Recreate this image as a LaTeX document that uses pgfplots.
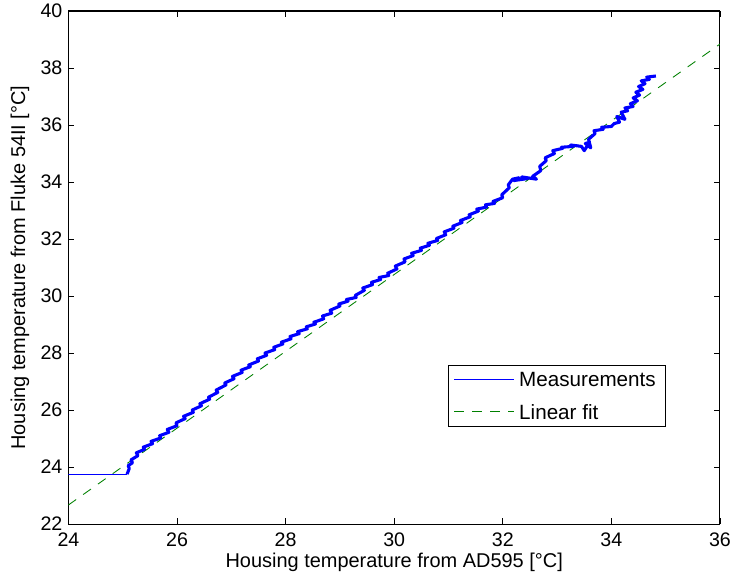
\documentclass[border=0pt]{standalone}
\usepackage{fontspec}
\setmainfont{Liberation Sans}
\usepackage{pgfplots}
\pgfplotsset{compat=1.18}
\definecolor{mblue}{rgb}{0,0,1}
\definecolor{mgreen}{rgb}{0,0.5,0}
\begin{document}
\begin{tikzpicture}
\begin{axis}[
 scale only axis,
 width=378.8pt, height=298.3pt,
 xmin=24, xmax=36, ymin=22, ymax=40,
 xtick={24,26,...,36}, ytick={22,24,...,40},
 tick align=inside, major tick length=3.3pt,
 tick style={black, line width=0.5pt},
 axis line style={line width=0.6pt},
 /pgf/number format/assume math mode=true,
 ticklabel style={font=\fontsize{11.4}{13}\selectfont},
 xticklabel style={yshift=-1.5pt},
 xlabel={Housing temperature from AD595 [°C]},
 ylabel={Housing temperature from Fluke 54II [°C]},
 label style={font=\fontsize{11.6}{13}\selectfont},
 xlabel style={at={(axis description cs:0.5,-0.0738)}, anchor=center},
 ylabel style={at={(axis description cs:-0.0744,0.5)}, anchor=center},
 legend style={at={(rel axis cs:0.583,0.311)}, anchor=north west, draw=black, line width=0.5pt,
   font=\fontsize{12}{14}\selectfont, row sep=4pt, inner xsep=3pt, inner ysep=1.5pt,
   nodes={inner xsep=2.5pt, inner ysep=3pt, text depth=0pt}},
 legend cell align=left,
 legend image code/.code={\draw[#1] (0pt,0pt) -- (35pt,0pt);},
]
\addlegendimage{mblue, line width=0.5pt}
\addlegendentry{Measurements}
\addlegendimage{mgreen, line width=0.5pt, dash pattern=on 5.5pt off 5pt}
\addlegendentry{Linear fit}

\addplot[mgreen, line width=0.5pt, dash pattern=on 5.5pt off 5pt, forget plot] coordinates {(24,22.67) (36,38.84)};

\addplot[mblue, line width=0.7pt, forget plot] coordinates {(24.00,23.75) (25.08,23.75)};

\addplot[mblue, line width=1.8pt, line join=round, forget plot] coordinates {
(25.08,23.75) (25.12,23.95) (25.10,24.05) (25.18,24.15) (25.15,24.25)
(25.28,24.40) (25.25,24.50) (25.40,24.62) (25.38,24.70) (25.55,24.82) (25.52,24.90)
(25.70,25.02) (25.68,25.10) (25.85,25.22) (25.82,25.32) (26.00,25.45) (25.98,25.55)
(26.15,25.70) (26.12,25.78) (26.30,25.92) (26.28,26.00) (26.45,26.15) (26.42,26.22)
(26.60,26.38) (26.58,26.45) (26.75,26.62) (26.72,26.70) (26.90,26.88) (26.88,26.95)
(27.05,27.10) (27.02,27.18) (27.20,27.32) (27.18,27.40) (27.35,27.52) (27.32,27.58)
(27.50,27.72) (27.48,27.80) (27.65,27.92) (27.62,28.00) (27.80,28.12) (27.78,28.20)
(27.95,28.32) (27.92,28.38) (28.10,28.50) (28.08,28.58) (28.25,28.68) (28.22,28.75)
(28.40,28.85) (28.38,28.92) (28.55,29.02) (28.52,29.08) (28.70,29.20) (28.68,29.30)
(28.85,29.40) (28.82,29.50) (29.00,29.65) (28.98,29.72) (29.15,29.82) (29.12,29.88)
(29.30,29.95) (29.28,30.02) (29.45,30.20) (29.42,30.28) (29.60,30.40) (29.58,30.48)
(29.75,30.58) (29.72,30.65) (29.90,30.72) (29.88,30.80) (30.05,30.95) (30.02,31.05)
(30.20,31.20) (30.18,31.30) (30.35,31.42) (30.32,31.50) (30.50,31.60) (30.48,31.68)
(30.65,31.78) (30.62,31.85) (30.80,31.95) (30.78,32.02) (30.95,32.15) (30.92,32.25)
(31.10,32.38) (31.08,32.45) (31.25,32.58) (31.22,32.65) (31.40,32.78) (31.38,32.85)
(31.55,32.98) (31.52,33.05) (31.70,33.12) (31.68,33.20) (31.85,33.25) (31.82,33.32)
(32.00,33.45) (31.98,33.55) (32.12,33.80) (32.10,33.90) (32.18,34.10) (32.30,34.15)
(32.20,34.05) (32.45,34.12) (32.35,34.18) (32.62,34.10) (32.55,34.20) (32.70,34.40)
(32.68,34.55) (32.80,34.75) (32.78,34.85) (32.95,35.00) (32.92,35.10) (33.10,35.18)
(33.08,35.22) (33.30,35.25) (33.25,35.30) (33.45,35.25) (33.50,35.10) (33.60,35.40)
(33.52,35.35) (33.62,35.20) (33.58,35.50) (33.70,35.70) (33.68,35.80) (33.85,35.85)
(33.82,35.92) (34.00,35.95) (34.05,36.05) (34.15,36.10) (34.10,36.30) (34.25,36.20)
(34.18,36.45) (34.30,36.50) (34.25,36.60) (34.40,36.65) (34.35,36.75) (34.48,36.85)
(34.40,36.95) (34.52,37.05) (34.45,37.15) (34.58,37.25) (34.50,37.35) (34.62,37.45)
(34.55,37.55) (34.70,37.60) (34.65,37.68) (34.82,37.72)
};
\end{axis}
\pgfresetboundingbox
\path ([shift={(-39.8pt,-33.1pt)}]current axis.south west) rectangle ([shift={(7pt,6.4pt)}]current axis.north east);
\end{tikzpicture}
\end{document}
